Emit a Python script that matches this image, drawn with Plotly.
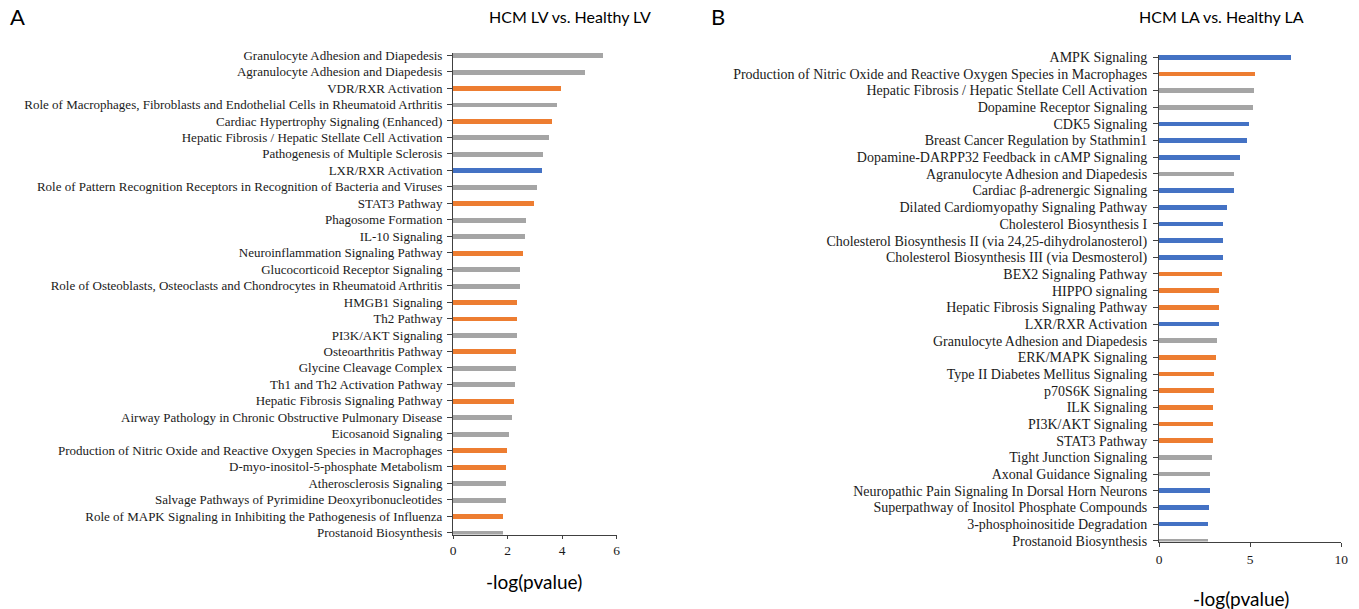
import plotly.graph_objects as go

W, H = 1359, 609

ORANGE = "#ED7D31"
BLUE = "#4472C4"
GRAY = "#A5A5A5"

# Panel A: HCM LV vs. Healthy LV
lv_pathways = [
    "Granulocyte Adhesion and Diapedesis",
    "Agranulocyte Adhesion and Diapedesis",
    "VDR/RXR Activation",
    "Role of Macrophages, Fibroblasts and Endothelial Cells in Rheumatoid Arthritis",
    "Cardiac Hypertrophy Signaling (Enhanced)",
    "Hepatic Fibrosis / Hepatic Stellate Cell Activation",
    "Pathogenesis of Multiple Sclerosis",
    "LXR/RXR Activation",
    "Role of Pattern Recognition Receptors in Recognition of Bacteria and Viruses",
    "STAT3 Pathway",
    "Phagosome Formation",
    "IL-10 Signaling",
    "Neuroinflammation Signaling Pathway",
    "Glucocorticoid Receptor Signaling",
    "Role of Osteoblasts, Osteoclasts and Chondrocytes in Rheumatoid Arthritis",
    "HMGB1 Signaling",
    "Th2 Pathway",
    "PI3K/AKT Signaling",
    "Osteoarthritis Pathway",
    "Glycine Cleavage Complex",
    "Th1 and Th2 Activation Pathway",
    "Hepatic Fibrosis Signaling Pathway",
    "Airway Pathology in Chronic Obstructive Pulmonary Disease",
    "Eicosanoid Signaling",
    "Production of Nitric Oxide and Reactive Oxygen Species in Macrophages",
    "D-myo-inositol-5-phosphate Metabolism",
    "Atherosclerosis Signaling",
    "Salvage Pathways of Pyrimidine Deoxyribonucleotides",
    "Role of MAPK Signaling in Inhibiting the Pathogenesis of Influenza",
    "Prostanoid Biosynthesis",
]
lv_neglogp = [5.51, 4.85, 3.97, 3.80, 3.63, 3.52, 3.31, 3.28, 3.10, 2.98,
              2.68, 2.66, 2.56, 2.45, 2.45, 2.36, 2.36, 2.34, 2.32, 2.32,
              2.28, 2.23, 2.15, 2.07, 1.99, 1.96, 1.93, 1.93, 1.85, 1.85]
lv_direction = ["n", "n", "up", "n", "up", "n", "n", "down", "n", "up",
                "n", "n", "up", "n", "n", "up", "up", "n", "up", "n",
                "n", "up", "n", "n", "up", "up", "n", "n", "up", "n"]

# Panel B: HCM LA vs. Healthy LA
la_pathways = [
    "AMPK Signaling",
    "Production of Nitric Oxide and Reactive Oxygen Species in Macrophages",
    "Hepatic Fibrosis / Hepatic Stellate Cell Activation",
    "Dopamine Receptor Signaling",
    "CDK5 Signaling",
    "Breast Cancer Regulation by Stathmin1",
    "Dopamine-DARPP32 Feedback in cAMP Signaling",
    "Agranulocyte Adhesion and Diapedesis",
    "Cardiac β-adrenergic Signaling",
    "Dilated Cardiomyopathy Signaling Pathway",
    "Cholesterol Biosynthesis I",
    "Cholesterol Biosynthesis II (via 24,25-dihydrolanosterol)",
    "Cholesterol Biosynthesis III (via Desmosterol)",
    "BEX2 Signaling Pathway",
    "HIPPO signaling",
    "Hepatic Fibrosis Signaling Pathway",
    "LXR/RXR Activation",
    "Granulocyte Adhesion and Diapedesis",
    "ERK/MAPK Signaling",
    "Type II Diabetes Mellitus Signaling",
    "p70S6K Signaling",
    "ILK Signaling",
    "PI3K/AKT Signaling",
    "STAT3 Pathway",
    "Tight Junction Signaling",
    "Axonal Guidance Signaling",
    "Neuropathic Pain Signaling In Dorsal Horn Neurons",
    "Superpathway of Inositol Phosphate Compounds",
    "3-phosphoinositide Degradation",
    "Prostanoid Biosynthesis",
]
la_neglogp = [7.26, 5.28, 5.23, 5.17, 4.94, 4.83, 4.43, 4.10, 4.10, 3.75,
              3.53, 3.53, 3.53, 3.46, 3.29, 3.29, 3.29, 3.18, 3.13, 3.02,
              3.02, 2.94, 2.94, 2.94, 2.89, 2.78, 2.78, 2.72, 2.67, 2.67]
la_direction = ["down", "up", "n", "n", "down", "down", "down", "n", "down", "down",
                "down", "down", "down", "up", "up", "up", "down", "n", "up", "up",
                "up", "up", "up", "up", "n", "n", "down", "down", "down", "n"]

lv_ticks = [0, 2, 4, 6]
la_ticks = [0, 5, 10]

COLOR_OF = {"up": ORANGE, "down": BLUE, "n": GRAY}


def px(x):
    return x / W


def py(y):
    return 1 - y / H


fig = go.Figure()

fig.add_trace(go.Bar(
    x=lv_neglogp, y=list(range(len(lv_pathways))), orientation="h",
    marker=dict(color=[COLOR_OF[d] for d in lv_direction], line=dict(width=0)),
    width=0.3, xaxis="x", yaxis="y", showlegend=False,
))
fig.add_trace(go.Bar(
    x=la_neglogp, y=list(range(len(la_pathways))), orientation="h",
    marker=dict(color=[COLOR_OF[d] for d in la_direction], line=dict(width=0)),
    width=0.28, xaxis="x2", yaxis="y2", showlegend=False,
))

AXIS_COLOR = "#404040"
TICK_FONT = dict(family="Liberation Serif", size=13.5, color="#1a1a1a")

common_x = dict(showline=True, linecolor=AXIS_COLOR, linewidth=1, ticks="outside",
                tickcolor=AXIS_COLOR, showgrid=False, zeroline=False,
                tickfont=TICK_FONT, fixedrange=True, automargin=False)
common_y = dict(showline=True, linecolor=AXIS_COLOR, linewidth=1, ticks="outside",
                ticklen=5, tickcolor=AXIS_COLOR, showgrid=False, zeroline=False,
                fixedrange=True, automargin=False)

fig.update_layout(
    width=W, height=H,
    margin=dict(l=0, r=0, t=0, b=0),
    paper_bgcolor="white", plot_bgcolor="white",
    bargap=0,
    xaxis=dict(domain=[px(453), px(616.5)], range=[0, 6], tickvals=lv_ticks,
               anchor="y", ticklen=3, ticklabelstandoff=0, **common_x),
    yaxis=dict(domain=[py(534.5), py(52.5)], range=[29.12, -0.16],
               tickvals=list(range(len(lv_pathways))), ticktext=lv_pathways,
               anchor="x", ticklabelstandoff=2,
               tickfont=dict(family="Liberation Serif", size=13, color="#1a1a1a"),
               **common_y),
    xaxis2=dict(domain=[px(1159), px(1341.3)], range=[0, 10], tickvals=la_ticks,
                anchor="y2", ticklen=4, ticklabelstandoff=1, **common_x),
    yaxis2=dict(domain=[py(541.5), py(55)], range=[29.04, -0.13],
                tickvals=list(range(len(la_pathways))), ticktext=la_pathways,
                anchor="x2", ticklabelstandoff=3,
                tickfont=dict(family="Liberation Serif", size=14, color="#1a1a1a"),
                **common_y),
)

SANS = "Lato"
notes = [
    ("A", 17, 17, 22),
    ("B", 718, 17, 22),
    ("HCM LV vs. Healthy LV", 570, 17, 16),
    ("HCM LA vs. Healthy LA", 1221, 17, 16),
    ("-log(pvalue)", 534, 581, 19),
    ("-log(pvalue)", 1241, 598, 19),
]
for text, x, y, size in notes:
    fig.add_annotation(text=text, x=px(x), y=py(y), xref="paper", yref="paper",
                       xanchor="center", yanchor="middle", showarrow=False,
                       font=dict(family=SANS, size=size, color="#000000"))

fig.write_html("out.html")
